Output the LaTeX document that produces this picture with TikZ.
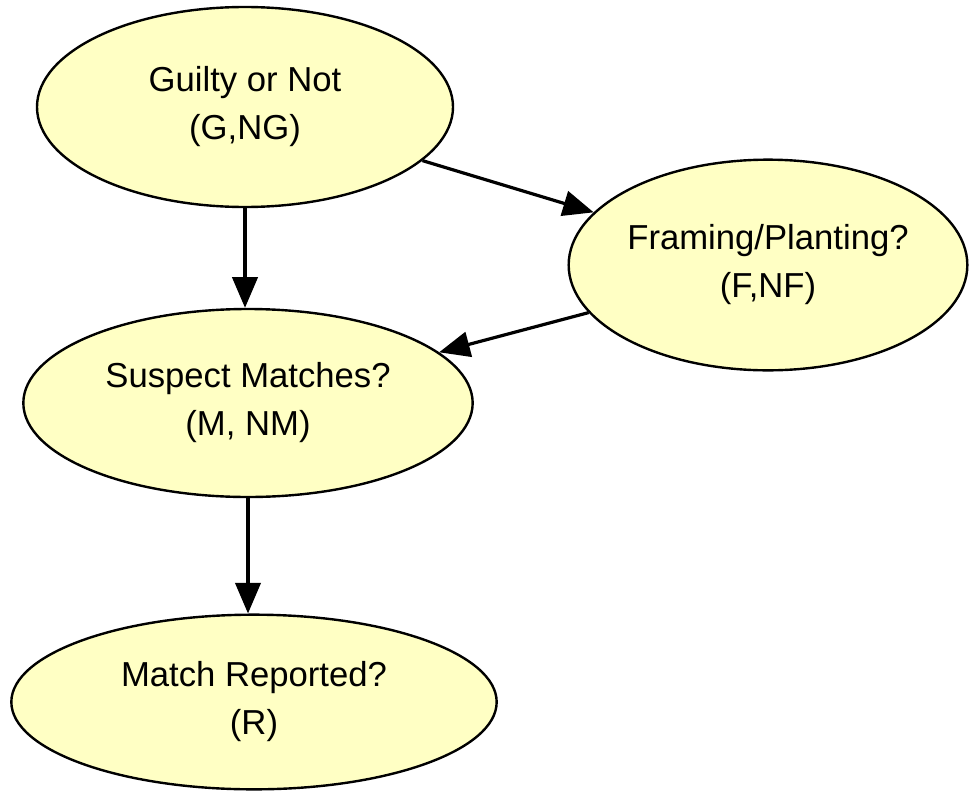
\documentclass[tikz,border=0pt]{standalone}
\usepackage{fontspec}
\setmainfont{Liberation Sans}
\usetikzlibrary{shapes.geometric,arrows.meta}
\definecolor{nodefill}{RGB}{255,255,196}
\begin{document}
\begin{tikzpicture}[x=0.75pt,y=-0.75pt,
  bnode/.style={ellipse,draw=black,line width=1.8pt,fill=nodefill,inner sep=0pt,
    align=center,font=\fontsize{26}{36}\selectfont},
  conn/.style={line width=2.4pt,-{Triangle[length=23pt,width=19pt]}}]
\useasboundingbox (0,0) rectangle (969,792);
\node[bnode,minimum width=312pt,minimum height=150pt] (g) at (245,107) {Guilty or Not\\(G,NG)};
\node[bnode,minimum width=299pt,minimum height=158pt] (f) at (768,265) {Framing/Planting?\\(F,NF)};
\node[bnode,minimum width=337pt,minimum height=141pt] (s) at (248,403) {Suspect Matches?\\(M, NM)};
\node[bnode,minimum width=364pt,minimum height=131pt] (r) at (254,702) {Match Reported?\\(R)};
\draw[conn] (g.south) -- (g.south |- s.north);
\draw[conn] (g) -- (f);
\draw[conn] (f) -- (s);
\draw[conn] (s.south) -- (s.south |- r.north);
\end{tikzpicture}
\end{document}
